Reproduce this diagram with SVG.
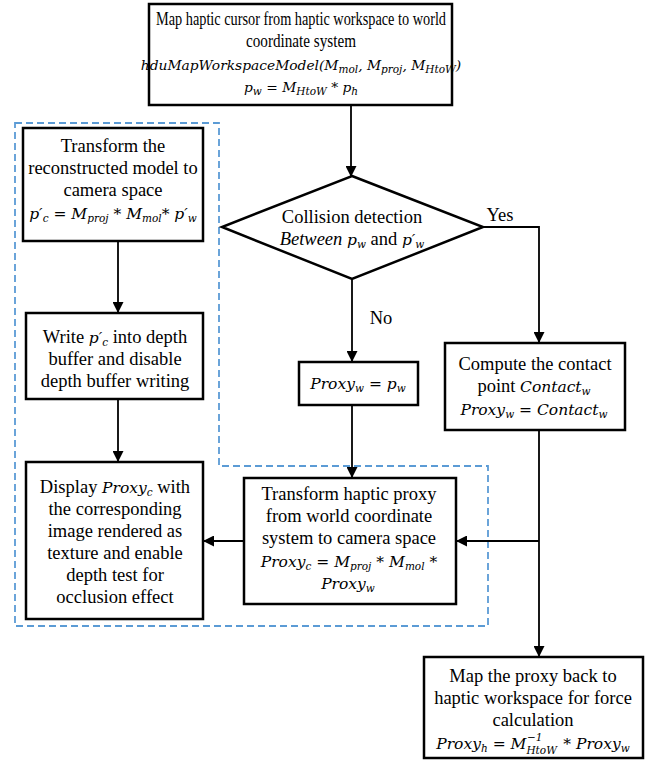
<svg xmlns="http://www.w3.org/2000/svg" width="651" height="763" viewBox="0 0 651 763">
<style>
.box{fill:#fff;stroke:#000;stroke-width:2.5}
.c{fill:none;stroke:#000;stroke-width:1.8}
.dash{fill:none;stroke:#5b9bd5;stroke-width:1.8;stroke-dasharray:7 4}
text{font-family:'Liberation Serif','Times New Roman',serif;font-size:18.5px;fill:#000;text-anchor:middle}
.m{font-family:'DejaVu Serif','Liberation Serif',serif;font-style:italic;font-size:15.5px}
.m14{font-size:13.8px}
.s{font-size:10.5px}
.top{font-size:18px}
</style>
<defs>
<marker id="ah" markerWidth="11" markerHeight="11" refX="10" refY="5.5" orient="auto" markerUnits="userSpaceOnUse">
<path d="M0,0 L11,5.5 L0,11 Z" fill="#000"/>
</marker>
</defs>
<rect width="651" height="763" fill="#fff"/>
<path class="dash" d="M15,123 H219 V466 H488 V626 H15 Z"/>
<g id="connectors">
<path class="c" d="M351,105 V176" marker-end="url(#ah)"/>
<path class="c" d="M483,227 H539 V342" marker-end="url(#ah)"/>
<path class="c" d="M352,279 V361" marker-end="url(#ah)"/>
<path class="c" d="M118,241 V312" marker-end="url(#ah)"/>
<path class="c" d="M118,399 V461" marker-end="url(#ah)"/>
<path class="c" d="M352,405 V477" marker-end="url(#ah)"/>
<path class="c" d="M539,430 V656" marker-end="url(#ah)"/>
<path class="c" d="M539,541 H457" marker-end="url(#ah)"/>
<path class="c" d="M244,541 H204" marker-end="url(#ah)"/>
<text x="500" y="221">Yes</text>
<text x="381" y="324">No</text>
</g>
<g id="map-cursor">
<rect class="box" x="149" y="4" width="303" height="101"/>
<text class="top" x="301" y="25" textLength="290" lengthAdjust="spacingAndGlyphs">Map haptic cursor from haptic workspace to world</text>
<text class="top" x="301" y="47" textLength="110" lengthAdjust="spacingAndGlyphs">coordinate system</text>
<text x="301" y="70"><tspan class="m m14">hduMapWorkspaceModel(M<tspan class="s" dy="3">mol</tspan><tspan dy="-3">, M</tspan><tspan class="s" dy="3">proj</tspan><tspan dy="-3">, M</tspan><tspan class="s" dy="3">HtoW</tspan><tspan dy="-3">)</tspan></tspan></text>
<text x="301" y="92"><tspan class="m m14">p<tspan class="s" dy="3">w</tspan><tspan dy="-3"> = M</tspan><tspan class="s" dy="3">HtoW</tspan><tspan dy="-3"> * p</tspan><tspan class="s" dy="3">h</tspan></tspan></text>
</g>
<g id="collision">
<path class="box" d="M352,176 L483,227 L352,279 L222,227 Z"/>
<text x="352" y="223">Collision detection</text>
<text x="352" y="245"><tspan font-style="italic">Between </tspan><tspan class="m">p<tspan class="s" dy="3">w</tspan></tspan><tspan dy="-3"> and </tspan><tspan class="m">p′<tspan class="s" dy="3">w</tspan></tspan></text>
</g>
<g id="transform-model">
<rect class="box" x="23" y="128" width="180" height="113"/>
<text x="113" y="152">Transform the</text>
<text x="113" y="174">reconstructed model to</text>
<text x="113" y="196">camera space</text>
<text x="113" y="219"><tspan class="m">p′<tspan class="s" dy="3">c</tspan><tspan dy="-3"> = M</tspan><tspan class="s" dy="3">proj</tspan><tspan dy="-3"> * M</tspan><tspan class="s" dy="3">mol</tspan><tspan dy="-3">* p′</tspan><tspan class="s" dy="3">w</tspan></tspan></text>
</g>
<g id="write-depth">
<rect class="box" x="26" y="313" width="177" height="86"/>
<text x="115" y="343">Write  <tspan class="m">p′<tspan class="s" dy="3">c</tspan></tspan><tspan dy="-3"> into depth</tspan></text>
<text x="115" y="365">buffer and disable</text>
<text x="115" y="387">depth buffer writing</text>
</g>
<g id="display">
<rect class="box" x="26" y="462" width="177" height="157"/>
<text x="115" y="493">Display <tspan class="m">Proxy<tspan class="s" dy="3">c</tspan></tspan><tspan dy="-3"> with</tspan></text>
<text x="115" y="515">the corresponding</text>
<text x="115" y="537">image rendered as</text>
<text x="115" y="559">texture and enable</text>
<text x="115" y="581">depth test for</text>
<text x="115" y="603">occlusion effect</text>
</g>
<g id="proxy-eq">
<rect class="box" x="299" y="362" width="119" height="43"/>
<text x="358" y="389"><tspan class="m">Proxy<tspan class="s" dy="3">w</tspan><tspan dy="-3"> = p</tspan><tspan class="s" dy="3">w</tspan></tspan></text>
</g>
<g id="compute-contact">
<rect class="box" x="445" y="343" width="180" height="87"/>
<text x="535" y="370">Compute the contact</text>
<text x="534" y="392">point  <tspan class="m">Contact<tspan class="s" dy="3">w</tspan></tspan></text>
<text x="534" y="415"><tspan class="m">Proxy<tspan class="s" dy="3">w</tspan><tspan dy="-3"> = Contact</tspan><tspan class="s" dy="3">w</tspan></tspan></text>
</g>
<g id="transform-proxy">
<rect class="box" x="244" y="478" width="212" height="126"/>
<text x="349" y="500">Transform haptic proxy</text>
<text x="349" y="522">from world coordinate</text>
<text x="349" y="544">system to camera space</text>
<text x="349" y="567"><tspan class="m">Proxy<tspan class="s" dy="3">c</tspan><tspan dy="-3"> = M</tspan><tspan class="s" dy="3">proj</tspan><tspan dy="-3">  * M</tspan><tspan class="s" dy="3">mol</tspan><tspan dy="-3"> *</tspan></tspan></text>
<text x="348" y="589"><tspan class="m">Proxy<tspan class="s" dy="3">w</tspan></tspan></text>
</g>
<g id="map-back">
<rect class="box" x="424" y="657" width="219" height="101"/>
<text x="533" y="682">Map the proxy back to</text>
<text x="533" y="704">haptic workspace for force</text>
<text x="533" y="726">calculation</text>
<text x="533" y="749"><tspan class="m">Proxy<tspan class="s" dy="3">h</tspan><tspan dy="-3"> = M</tspan><tspan class="s" dy="5">HtoW</tspan><tspan class="s" dx="-30" dy="-13">−1</tspan><tspan dx="16" dy="8"> * Proxy</tspan><tspan class="s" dy="3">w</tspan></tspan></text>
</g>
</svg>
